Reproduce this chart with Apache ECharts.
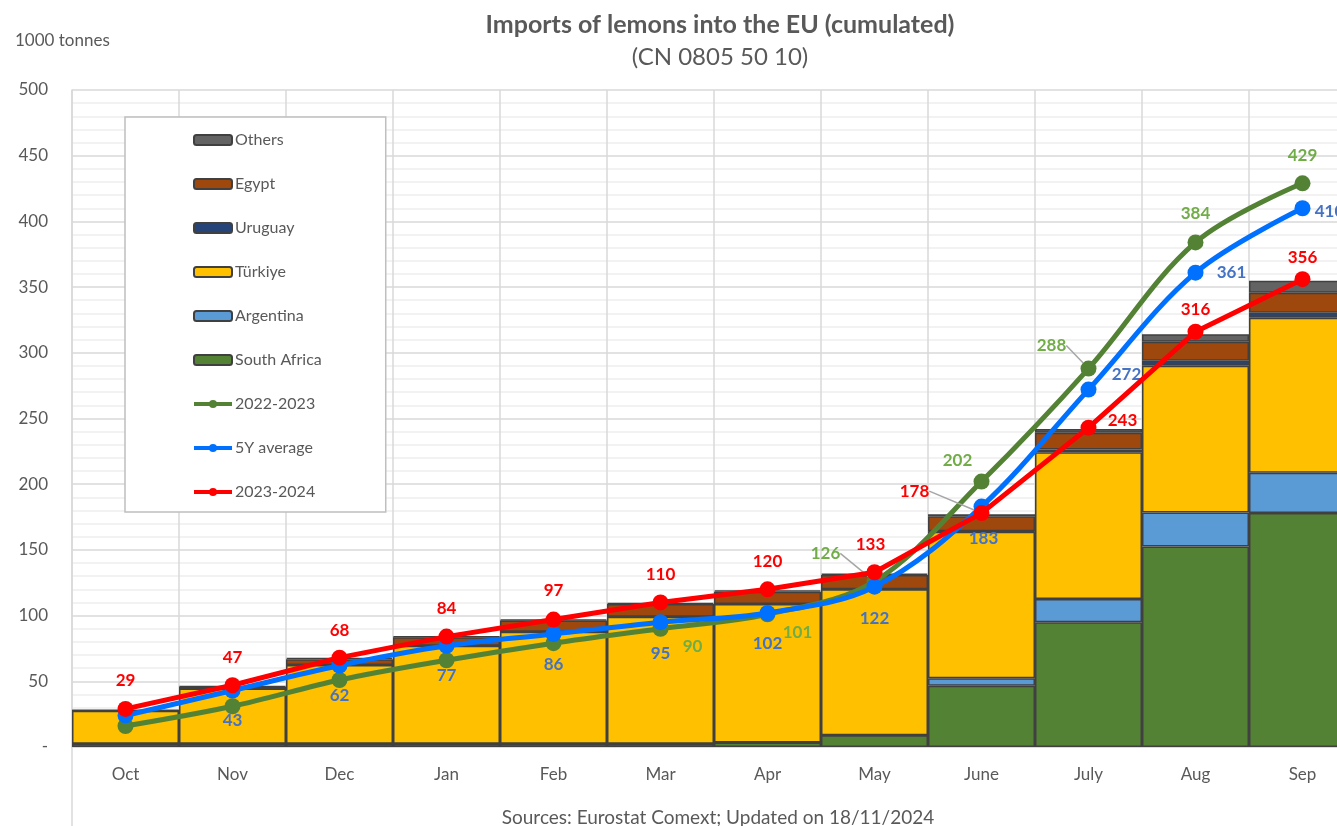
<!DOCTYPE html>
<html lang="en">
<head>
  <meta charset="UTF-8">
  <title>Imports of lemons into the EU (cumulated)</title>
  <script src="https://cdn.jsdelivr.net/npm/echarts@6/dist/echarts.min.js"></script>
  <style>
    html, body { margin: 0; padding: 0; background: #fff; overflow: hidden; }
    /* the original chart runs a little past the right edge of the picture */
    #chart { width: 1360px; height: 826px; }
  </style>
</head>
<body>
  <div id="chart"></div>
  <script>
    // months of the marketing year (Oct - Sep)
    var months = ['Oct', 'Nov', 'Dec', 'Jan', 'Feb', 'Mar', 'Apr', 'May', 'June', 'July', 'Aug', 'Sep'];

    // cumulated imports by origin, 2023-2024 (1000 tonnes)
    var southAfrica = [2.5, 2.5, 2.5, 2.5, 2.5, 2.5, 3.5, 9, 46.7, 95, 152.5, 178];
    var argentina   = [0, 0, 0, 0, 0, 0, 0, 0, 5.6, 17.6, 26, 30.7];
    var turkiye     = [25, 42, 60, 74.5, 85.3, 96.7, 105.3, 111, 111.6, 111.7, 111.6, 118];
    var uruguay     = [0, 0, 0, 0, 0, 0, 0, 0, 0.3, 2.2, 3.8, 3.8];
    var egypt       = [0.3, 1.2, 4.3, 6.6, 8.4, 9.6, 9.4, 10.9, 11.4, 12.7, 14.5, 15.2];
    var others      = [0.3, 0.5, 1, 0.5, 0.8, 0.8, 1, 1, 1.5, 2.8, 5.8, 9.2];

    // cumulated totals
    var y2022_2023 = [16, 31, 51, 66, 79, 90, 101, 126, 202, 288, 384, 429];
    var avg5y      = [24, 43, 62, 77, 86, 95, 102, 122, 183, 272, 361, 410];
    var y2023_2024 = [29, 47, 68, 84, 97, 110, 120, 133, 178, 243, 316, 356];

    var yTicks = { min: 0, max: 500, interval: 50 };

    var chart = echarts.init(document.getElementById('chart'));
    var FONT = 'Lato';
    var GREY = '#595959';

    function barSeries(name, data, color) {
      return {
        name: name,
        type: 'bar',
        stack: 'imports',
        barCategoryGap: '0%',
        itemStyle: { color: color, borderColor: '#404040', borderWidth: 1.5 },
        emphasis: { disabled: true },
        data: data
      };
    }

    // offsets: label shift from each point (null = no label); leaders: points with a leader line
    function lineSeries(name, data, color, labelColor, offsets, leaders, smooth, z) {
      return {
        name: name,
        type: 'line',
        smooth: smooth,
        z: z,
        symbol: 'circle',
        symbolSize: 16,
        lineStyle: { color: color, width: 5 },
        itemStyle: { color: color },
        emphasis: { disabled: true },
        labelLayout: function (p) {
          var o = offsets[p.dataIndex] || [0, 0];
          return { dx: o[0], dy: o[1] };
        },
        data: data.map(function (v, i) {
          var o = offsets[i];
          return {
            value: v,
            label: o ? {
              show: true, position: 'inside',
              color: labelColor, fontFamily: FONT, fontWeight: 'bold', fontSize: 17
            } : { show: false },
            labelLine: {
              show: leaders.indexOf(i) >= 0,
              lineStyle: { color: '#a6a6a6', width: 1.5 }
            }
          };
        })
      };
    }

    var greenOff = [null, null, null, null, null, [32, 18], [30, 18], [-49, -28], [-24, -21], [-37, -23], [0, -29], [0, -28]];
    var blueOff = [null, [0, 30], [0, 30], [0, 30], [0, 31], [0, 31], [0, 31], [0, 32], [2, 32], [38, -15], [36, 0], [27, 3]];
    var redOff = [[0, -28], [0, -28], [0, -27], [0, -28], [0, -29], [0, -28], [0, -28], [-4, -28], [-67, -22], [34, -7], [0, -22], [0, -22]];

    var option = {
      backgroundColor: '#ffffff',
      animation: false,
      title: [
        {
          text: 'Imports of lemons into the EU (cumulated)',
          left: 715, top: 7, textAlign: 'center',
          textStyle: { fontFamily: FONT, fontSize: 25, fontWeight: 'bold', color: GREY }
        },
        {
          text: '(CN 0805 50 10)',
          left: 715, top: 40, textAlign: 'center',
          textStyle: { fontFamily: FONT, fontSize: 24, fontWeight: 'normal', color: GREY }
        },
        {
          text: '1000 tonnes',
          left: 10, top: 27,
          textStyle: { fontFamily: FONT, fontSize: 17, fontWeight: 'normal', color: GREY }
        },
        {
          text: 'Sources: Eurostat Comext; Updated on 18/11/2024',
          left: 713, top: 803, textAlign: 'center',
          textStyle: { fontFamily: FONT, fontSize: 19, fontWeight: 'normal', color: GREY }
        }
      ],
      legend: {
        orient: 'vertical',
        left: 125, top: 117,
        padding: [15, 64, 12, 67],
        itemWidth: 38, itemHeight: 10, itemGap: 28,
        borderColor: '#bfbfbf', borderWidth: 1.5,
        backgroundColor: '#ffffff',
        selectedMode: false,
        lineStyle: { width: 4 },
        textStyle: { fontFamily: FONT, fontSize: 16, color: GREY, lineHeight: 14, padding: [0, 0, 0, -2] },
        data: ['Others', 'Egypt', 'Uruguay', 'Türkiye', 'Argentina', 'South Africa', '2022-2023', '5Y average', '2023-2024']
      },
      grid: { left: 72, top: 90, width: 1284, height: 657 },
      xAxis: {
        type: 'category',
        data: months,
        boundaryGap: true,
        axisLine: { show: true, lineStyle: { color: '#d9d9d9', width: 1.5 } },
        axisTick: { show: false },
        splitLine: { show: true, lineStyle: { color: '#d9d9d9', width: 1.5 } },
        axisLabel: { fontFamily: FONT, fontSize: 17, color: GREY, margin: 19 }
      },
      yAxis: {
        type: 'value',
        min: yTicks.min, max: yTicks.max, interval: yTicks.interval,
        axisLine: { show: true, lineStyle: { color: '#d9d9d9', width: 1.5 } },
        axisTick: { show: false },
        minorTick: { show: false, splitNumber: 5 },
        minorSplitLine: { show: true, lineStyle: { color: '#eeeeee', width: 1.5 } },
        splitLine: { show: true, lineStyle: { color: '#d9d9d9', width: 1.5 } },
        axisLabel: {
          fontFamily: FONT, fontSize: 17, color: GREY, margin: 24,
          formatter: function (v) { return v === 0 ? '-' : v; }
        }
      },
      graphic: [
        { type: 'line', z: 1, shape: { x1: 72, y1: 747, x2: 72, y2: 826 }, style: { stroke: '#d9d9d9', lineWidth: 1.5 } }
      ],
      series: [
        barSeries('South Africa', southAfrica, '#548235'),
        barSeries('Argentina', argentina, '#5b9bd5'),
        barSeries('Türkiye', turkiye, '#ffc000'),
        barSeries('Uruguay', uruguay, '#264478'),
        barSeries('Egypt', egypt, '#9e480e'),
        barSeries('Others', others, '#636363'),
        lineSeries('2022-2023', y2022_2023, '#548235', '#70ad47', greenOff, [7, 9], 0.35, 3),
        lineSeries('5Y average', avg5y, '#0070ff', '#4472c4', blueOff, [], 0.35, 4),
        lineSeries('2023-2024', y2023_2024, '#ff0000', '#ff0000', redOff, [8], false, 5)
      ]
    };

    chart.setOption(option);
  </script>
</body>
</html>
